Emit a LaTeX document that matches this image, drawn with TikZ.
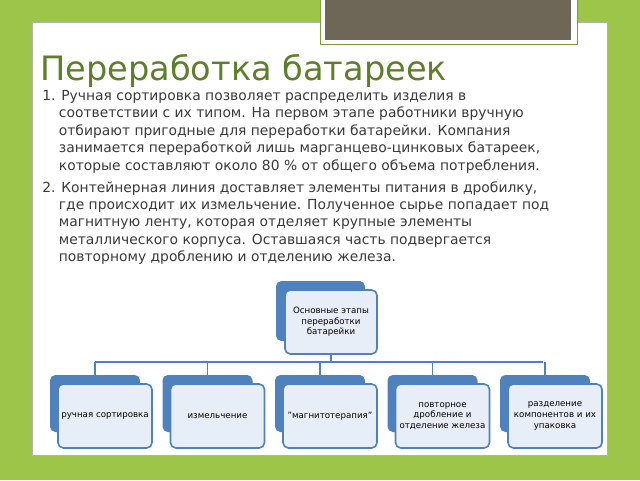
\documentclass[tikz,border=0pt]{standalone}
\usepackage{fontspec}
\setmainfont{DejaVu Sans}
\definecolor{bggreen}{HTML}{9CC54A}
\definecolor{titlegreen}{HTML}{5E7F2A}
\definecolor{txt}{HTML}{3A3A3A}
\definecolor{bl}{HTML}{4F81BD}
\definecolor{lb}{HTML}{E8EEF7}
\definecolor{gbox}{HTML}{6E6758}
\tikzset{
 backbox/.style={fill=bl,rounded corners=4pt},
 frontbox/.style={draw=bl,line width=1.2pt,fill=lb,rounded corners=4pt},
 lbl/.style={font=\fontsize{6.5}{8}\selectfont,align=center,text=black},
 conn/.style={draw=bl,line width=1pt},
 para/.style={font=\fontsize{10.4}{13.1}\selectfont,text=txt,anchor=north west,align=left,inner sep=0}
}
\begin{document}
\begin{tikzpicture}[x=0.75pt,y=-0.75pt]
\useasboundingbox (0,0) rectangle (640,480);
\fill[bggreen] (0,0) rectangle (640,480);
\fill[white,draw=gray!60] (32,22) rectangle (607,455);
\fill[white,draw=bggreen!80!black] (320,-2) rectangle (577,44);
\fill[gbox] (325,-2) rectangle (571,40);
\node[anchor=base west,font=\fontsize{25.2}{28}\selectfont,text=titlegreen,inner sep=0] (title) at (40,80) {Переработка батареек};
\node[para] (p1) at (42,90) {1. Ручная сортировка позволяет распределить изделия в\\
\hspace*{1.2em}соответствии с их типом. На первом этапе работники вручную\\
\hspace*{1.2em}отбирают пригодные для переработки батарейки. Компания\\
\hspace*{1.2em}занимается переработкой лишь марганцево-цинковых батареек,\\
\hspace*{1.2em}которые составляют около 80 \% от общего объема потребления.};
\node[para] (p2) at (42,181) {2. Контейнерная линия доставляет элементы питания в дробилку,\\
\hspace*{1.2em}где происходит их измельчение. Полученное сырье попадает под\\
\hspace*{1.2em}магнитную ленту, которая отделяет крупные элементы\\
\hspace*{1.2em}металлического корпуса. Оставшаяся часть подвергается\\
\hspace*{1.2em}повторному дроблению и отделению железа.};
% top
\fill[backbox] (276,281) rectangle (365,341);
\draw[frontbox] (285,290) rectangle (377,354);
\node[lbl] (top) at (331,322) {Основные этапы\\переработки\\батарейки};
\coordinate (hub) at (331,362);
\draw[conn] (331,354) -- (hub);
\draw[conn] (95,362) -- (543,362);
\foreach \i/\t in {0/{ручная сортировка},1/{измельчение},2/{"магнитотерапия"},3/{повторное\\дробление и\\отделение железа},4/{разделение\\компонентов и их\\упаковка}}{
 \pgfmathsetmacro{\xo}{50+112.5*\i}
 \draw[conn] (\xo+45,362) -- (\xo+45,375);
 \fill[backbox] (\xo,375) rectangle (\xo+90,432);
 \draw[frontbox] (\xo+8,384) rectangle (\xo+102,448);
 \node[lbl] (b\i) at (\xo+55,416) {\t};
}
\end{tikzpicture}
\end{document}
